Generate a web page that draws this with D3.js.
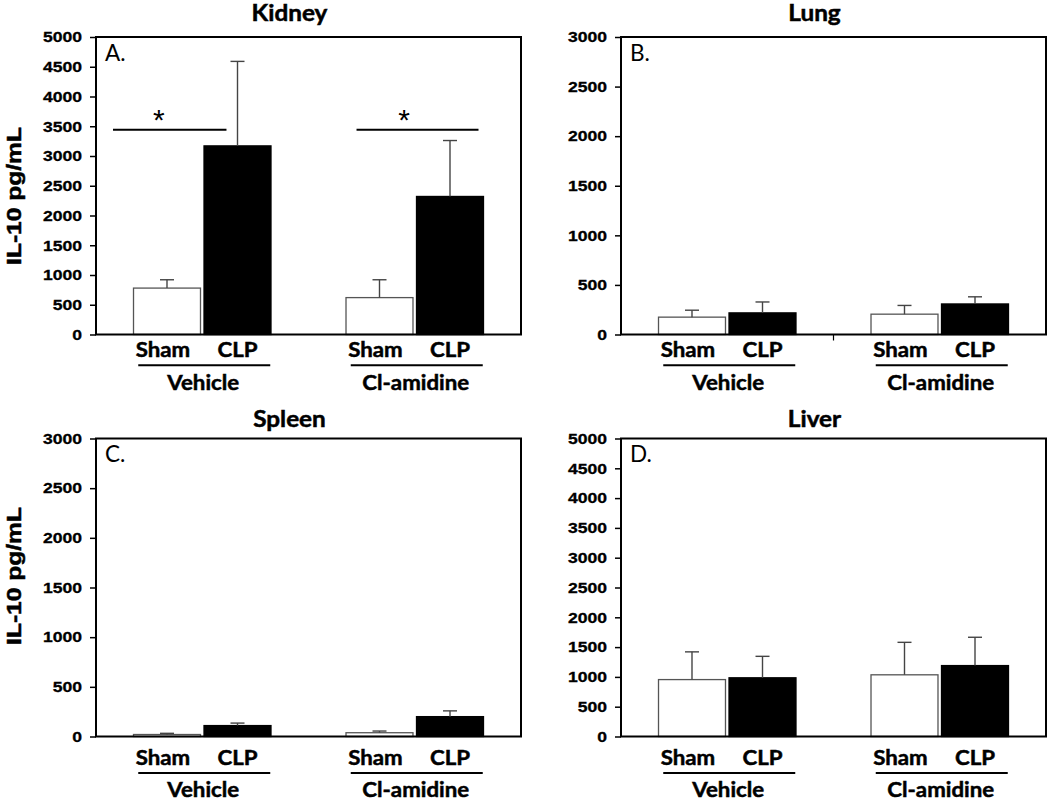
<!DOCTYPE html>
<html><head><meta charset="utf-8">
<script src="https://cdn.jsdelivr.net/npm/d3@7"></script>
<style>body{margin:0;background:#fff}</style>
</head><body><svg id="c" width="1050" height="799"></svg>
<script>
// ---------------- DATA ----------------
const panelNames = ["Kidney", "Lung", "Spleen", "Liver"];
const panelLetters = ["A.", "B.", "C.", "D."];
const groups = ["Vehicle", "Cl-amidine"];
const conditions = ["Sham", "CLP"];
const yMaxes = [5000, 3000, 3000, 5000];
const ticks5000 = [0, 500, 1000, 1500, 2000, 2500, 3000, 3500, 4000, 4500, 5000];
const ticks3000 = [0, 500, 1000, 1500, 2000, 2500, 3000];
// order: Vehicle-Sham, Vehicle-CLP, Cl-amidine-Sham, Cl-amidine-CLP
const kidneyMeans  = [780, 3170, 620, 2320];
const kidneyErrors = [140, 1420, 300, 940];
const lungMeans    = [175, 218, 205, 308];
const lungErrors   = [70, 110, 88, 72];
const spleenMeans  = [20, 110, 38, 200];
const spleenErrors = [12, 25, 17, 58];
const liverMeans   = [955, 985, 1035, 1190];
const liverErrors  = [465, 360, 545, 475];
const yLabel = "IL-10 pg/mL";
// significance bars in Kidney panel (x as fraction of plot width, y in pg/mL)
const kidneySig = [
  {x0: 0.04, x1: 0.307, star: 0.148, value: 3440},
  {x0: 0.613, x1: 0.90, star: 0.725, value: 3440}
];

const means = [kidneyMeans, lungMeans, spleenMeans, liverMeans];
const errors = [kidneyErrors, lungErrors, spleenErrors, liverErrors];
const tickSets = [ticks5000, ticks3000, ticks3000, ticks5000];

// ---------------- LAYOUT ----------------
const colLeft = [96, 621];
const plotW = 425;
const rows = [
  {top: 37, h: 297.5, title: -16.3, lab: 22.4, line: 30.7, grp: 55, ylab: 159},
  {top: 438.5, h: 298, title: -11.5, lab: 28.3, line: 36.6, grp: 60, ylab: 137.5}
];
const boldSans = "'Liberation Sans', Arial, sans-serif";
const humanist = "Lato, 'Open Sans', sans-serif";

const svg = d3.select("#c");
svg.append("rect").attr("width", 1050).attr("height", 799).attr("fill", "#fff");

function stretch(sel, k) {
  sel.each(function () {
    const L = this.getComputedTextLength();
    d3.select(this).attr("textLength", L * k).attr("lengthAdjust", "spacingAndGlyphs");
  });
}
function heavy(sel, w) {
  sel.attr("stroke", "#000").attr("stroke-width", w).attr("paint-order", "stroke");
}

panelNames.forEach((name, i) => {
  const row = rows[Math.floor(i / 2)];
  const left = colLeft[i % 2];
  const g = svg.append("g").attr("transform", `translate(${left},${row.top})`);
  const h = row.h;

  const y = d3.scaleLinear().domain([0, yMaxes[i]]).range([h, 0]);
  const xG = d3.scaleBand().domain(groups).range([0, plotW]).padding(0);
  const xC = d3.scaleBand().domain(conditions).range([0, xG.bandwidth()])
    .paddingInner(0.05).paddingOuter(0.532);
  const xF = d3.scaleLinear().domain([0, 1]).range([0, plotW]);

  const recs = [];
  groups.forEach((gr, gi) => conditions.forEach((c, ci) => {
    const k = gi * 2 + ci;
    recs.push({group: gr, cond: c, mean: means[i][k], err: errors[i][k]});
  }));

  // y axis
  const ax = g.append("g").call(
    d3.axisLeft(y).tickValues(tickSets[i]).tickFormat(d3.format("d")).tickSize(6).tickPadding(8)
  );
  ax.select(".domain").remove();
  ax.selectAll(".tick line").attr("stroke", "#000").attr("stroke-width", 1.5);
  ax.selectAll(".tick text")
    .attr("font-family", boldSans).attr("font-weight", "bold").attr("font-size", 15)
    .attr("fill", "#000");
  heavy(ax.selectAll(".tick text"), 0.3);
  stretch(ax.selectAll(".tick text"), 1.17);

  // bars
  const bx = d => xG(d.group) + xC(d.cond);
  g.selectAll("rect.bar").data(recs).join("rect").attr("class", "bar")
    .attr("x", bx).attr("width", xC.bandwidth())
    .attr("y", d => y(d.mean)).attr("height", d => h - y(d.mean))
    .attr("fill", d => d.cond === "Sham" ? "#fff" : "#000")
    .attr("stroke", d => d.cond === "Sham" ? "#555" : "#000")
    .attr("stroke-width", 1.3);

  // error bars
  const cx = d => bx(d) + xC.bandwidth() / 2;
  g.selectAll("line.eb").data(recs).join("line").attr("class", "eb")
    .attr("x1", cx).attr("x2", cx)
    .attr("y1", d => y(d.mean)).attr("y2", d => y(d.mean + d.err))
    .attr("stroke", "#444").attr("stroke-width", 1.4);
  g.selectAll("line.cap").data(recs).join("line").attr("class", "cap")
    .attr("x1", d => cx(d) - 7).attr("x2", d => cx(d) + 7)
    .attr("y1", d => y(d.mean + d.err)).attr("y2", d => y(d.mean + d.err))
    .attr("stroke", "#444").attr("stroke-width", 1.4);

  // frame
  g.append("rect").attr("x", 0).attr("y", 0).attr("width", plotW).attr("height", h)
    .attr("fill", "none").attr("stroke", "#000").attr("stroke-width", 2);

  if (i === 1) {
    g.append("line").attr("x1", plotW / 2).attr("x2", plotW / 2).attr("y1", h).attr("y2", h + 6)
      .attr("stroke", "#000").attr("stroke-width", 1.2);
  }

  // panel letter
  g.append("text").attr("x", 9).attr("y", 23.5).text(panelLetters[i])
    .attr("font-family", humanist).attr("font-size", 22.5).attr("fill", "#000");

  // title
  const t = g.append("text").attr("x", plotW / 2 - 19).attr("y", row.title).attr("text-anchor", "middle")
    .text(name).attr("font-family", humanist).attr("font-weight", "bold").attr("font-size", 22.5);
  heavy(t, 0.5);
  stretch(t, 1.08);

  // condition labels
  const cl = g.selectAll("text.cond").data(recs).join("text").attr("class", "cond")
    .attr("x", d => cx(d) + (d.cond === "Sham" ? -4 : 0)).attr("y", h + row.lab)
    .attr("text-anchor", "middle").text(d => d.cond)
    .attr("font-family", humanist).attr("font-weight", "bold").attr("font-size", 21);
  heavy(cl, 0.5);
  stretch(cl, 1.06);

  // group underline and labels
  g.selectAll("line.gl").data(groups).join("line").attr("class", "gl")
    .attr("x1", d => xG(d) + xG.bandwidth() / 2 - 64).attr("x2", d => xG(d) + xG.bandwidth() / 2 + 68)
    .attr("y1", h + row.line).attr("y2", h + row.line)
    .attr("stroke", "#000").attr("stroke-width", 2);
  const gl = g.selectAll("text.grp").data(groups).join("text").attr("class", "grp")
    .attr("x", d => xG(d) + xG.bandwidth() / 2 + 1).attr("y", h + row.grp)
    .attr("text-anchor", "middle").text(d => d)
    .attr("font-family", humanist).attr("font-weight", "bold").attr("font-size", 21);
  heavy(gl, 0.5);
  stretch(gl, 1.06);

  // y label (left column only)
  if (i % 2 === 0) {
    const yl = g.append("text").attr("transform", `translate(${20.5 - left},${row.ylab}) rotate(-90)`)
      .attr("text-anchor", "middle").text(yLabel)
      .attr("font-family", boldSans).attr("font-weight", "bold").attr("font-size", 21);
    heavy(yl, 0.5);
    stretch(yl, 1.17);
  }

  // significance
  if (i === 0) {
    kidneySig.forEach(s => {
      g.append("line").attr("x1", xF(s.x0)).attr("x2", xF(s.x1))
        .attr("y1", y(s.value)).attr("y2", y(s.value))
        .attr("stroke", "#000").attr("stroke-width", 2);
      g.append("text").attr("x", xF(s.star)).attr("y", y(s.value)).attr("text-anchor", "middle")
        .text("*").attr("font-family", boldSans).attr("font-size", 30);
    });
  }
});
</script></body></html>
